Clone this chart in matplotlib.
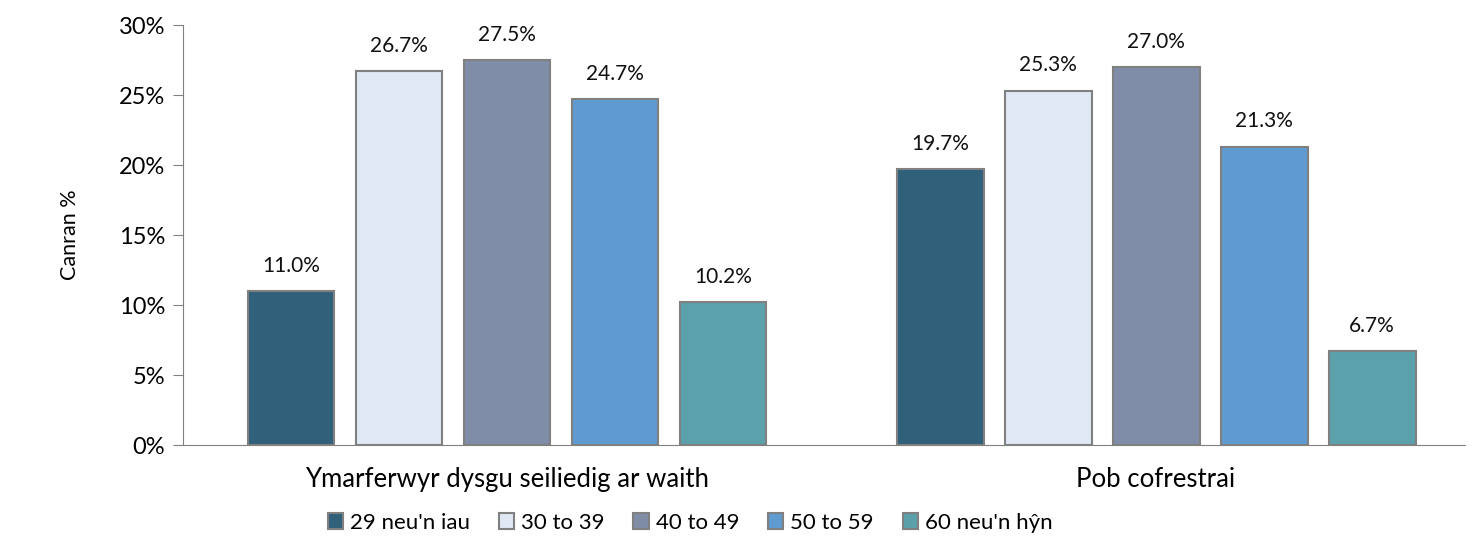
import matplotlib
matplotlib.use("Agg")
import matplotlib.pyplot as plt
import numpy as np

categories = ["Ymarferwyr dysgu seiliedig ar waith", "Pob cofrestrai"]
series_names = ["29 neu'n iau", "30 to 39", "40 to 49", "50 to 59", "60 neu'n hŷn"]
values = {
    "29 neu'n iau": [11.0, 19.7],
    "30 to 39": [26.7, 25.3],
    "40 to 49": [27.5, 27.0],
    "50 to 59": [24.7, 21.3],
    "60 neu'n hŷn": [10.2, 6.7],
}
colors = ["#31607A", "#DFE8F3", "#7F8DA8", "#5F9BD0", "#5BA1AB"]
yticks = [0, 5, 10, 15, 20, 25, 30]

plt.rcParams['font.family'] = ['Lato', 'DejaVu Sans']

fig = plt.figure(figsize=(14.72, 5.47), dpi=100)
ax = fig.add_axes([183/1472, 1-445/547, (1465-183)/1472, 420/547])

x = np.arange(len(categories))
width = 0.134
step = 0.1664
for i, name in enumerate(series_names):
    pos = x + (i - 2) * step
    bars = ax.bar(pos, values[name], width=width, color=colors[i], edgecolor="#808080",
                  linewidth=1.5, label=name, zorder=3)
    for b, v in zip(bars, values[name]):
        ax.text(b.get_x() + b.get_width()/2, v + 1.1, f"{v:.1f}%", ha="center", va="bottom",
                fontsize=15, color="#111111")

ax.set_ylim(0, 30)
ax.set_xlim(-0.4992, 1.476)
ax.set_yticks(yticks)
ax.set_yticklabels([f"{t}%" for t in yticks], fontsize=17)
ax.set_xticks(x)
ax.set_xticklabels(categories, fontsize=18.5)
ax.tick_params(axis='x', length=0, pad=16)
ax.tick_params(axis='y', length=7, color="#808080", pad=6)
for s in ["top", "right"]:
    ax.spines[s].set_visible(False)
ax.spines["left"].set_color("#808080")
ax.spines["bottom"].set_color("#808080")
ax.set_ylabel("Canran %", fontsize=15.5, labelpad=28)

leg = fig.legend(loc="center", bbox_to_anchor=(690/1472, 1-523/547), ncol=5, frameon=False,
                 fontsize=16, handlelength=0.7, handleheight=0.7, handletextpad=0.3,
                 columnspacing=1.3)

fig.savefig("out.png", dpi=100)
